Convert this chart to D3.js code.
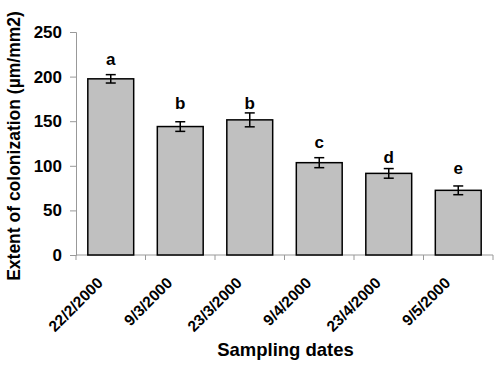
<!DOCTYPE html>
<html lang="en">
<head>
<meta charset="utf-8">
<title>Extent of colonization</title>
<script src="https://d3js.org/d3.v7.min.js"></script>
<style>
  body { margin: 0; background: #fff; }
  svg { display: block; }
  text { font-family: Arial, "Liberation Sans", sans-serif; font-weight: bold; fill: #000; }
  .ytick { font-size: 17px; }
  .xtick { font-size: 15.5px; }
  .title { font-size: 17.5px; }
  .xtitle { font-size: 18.5px; }
  .letter { font-size: 17px; }
</style>
</head>
<body>
<svg width="500" height="365"></svg>
<script>
// chart data
const dates = ["22/2/2000", "9/3/2000", "23/3/2000", "9/4/2000", "23/4/2000", "9/5/2000"];
const colonization = [197.5, 144, 151.5, 103.5, 91.5, 72.5];
const errors = [4.7, 5.4, 7.8, 5.6, 5.4, 4.9];
const letters = ["a", "b", "b", "c", "d", "e"];
const letterLevels = [213, 164, 164, 120, 103, 91];   // where the letters sit, in data units
const yTicks = [0, 50, 100, 150, 200, 250];

const svg = d3.select("svg");
const plotL = 76, plotR = 493, plotT = 32, plotB = 255;

const x = d3.scaleBand().domain(dates).range([plotL, plotR]).paddingInner(0.34).paddingOuter(0.17);
const xb = d3.scaleBand().domain(dates).range([plotL, plotR]); // for tick marks at band edges
const y = d3.scaleLinear().domain([0, 250]).range([plotB, plotT]);

// y axis
const yAxis = svg.append("g").attr("transform", `translate(${plotL},0)`)
  .call(d3.axisLeft(y).tickValues(yTicks).tickSize(6).tickPadding(8));
yAxis.attr("font-size", null).attr("font-family", null);
yAxis.select(".domain").attr("stroke", "#999");
yAxis.selectAll(".tick line").attr("stroke", "#999");
yAxis.selectAll("text").attr("class", "ytick");

// x axis baseline + ticks at category boundaries
svg.append("line").attr("x1", plotL).attr("x2", plotR).attr("y1", plotB).attr("y2", plotB)
  .attr("stroke", "#999");
const edges = dates.map(d => xb(d)).concat([plotR]);
svg.selectAll(".xedge").data(edges).enter().append("line")
  .attr("x1", d => d).attr("x2", d => d).attr("y1", plotB).attr("y2", plotB + 5)
  .attr("stroke", "#999");

// rotated category labels
svg.selectAll(".xtick").data(dates).enter().append("text")
  .attr("class", "xtick")
  .attr("text-anchor", "end")
  .attr("transform", d => `translate(${x(d) + x.bandwidth() / 2 - 7},${plotB + 29}) rotate(-45)`)
  .text(d => d);

// bars
svg.selectAll(".bar").data(dates).enter().append("rect")
  .attr("x", d => x(d))
  .attr("y", (d, i) => y(colonization[i]))
  .attr("width", x.bandwidth())
  .attr("height", (d, i) => y(0) - y(colonization[i]))
  .attr("fill", "#c0c0c0")
  .attr("stroke", "#000")
  .attr("stroke-width", 1.5);

// error bars
const eb = svg.selectAll(".err").data(dates).enter().append("g")
  .attr("transform", d => `translate(${x(d) + x.bandwidth() / 2},0)`);
eb.append("line")
  .attr("y1", (d, i) => y(colonization[i] + errors[i]))
  .attr("y2", (d, i) => y(colonization[i] - errors[i]))
  .attr("stroke", "#000").attr("stroke-width", 1.5);
eb.append("line").attr("x1", -5).attr("x2", 5)
  .attr("y1", (d, i) => y(colonization[i] + errors[i]))
  .attr("y2", (d, i) => y(colonization[i] + errors[i]))
  .attr("stroke", "#000").attr("stroke-width", 1.5);
eb.append("line").attr("x1", -5).attr("x2", 5)
  .attr("y1", (d, i) => y(colonization[i] - errors[i]))
  .attr("y2", (d, i) => y(colonization[i] - errors[i]))
  .attr("stroke", "#000").attr("stroke-width", 1.5);

// significance letters
svg.selectAll(".letter").data(dates).enter().append("text")
  .attr("class", "letter")
  .attr("text-anchor", "middle")
  .attr("x", d => x(d) + x.bandwidth() / 2)
  .attr("y", (d, i) => y(letterLevels[i]))
  .text((d, i) => letters[i]);

// axis titles
svg.append("text").attr("class", "title")
  .attr("text-anchor", "middle")
  .attr("transform", "translate(20,146) rotate(-90)")
  .text("Extent of colonization (µm/mm2)");

svg.append("text").attr("class", "xtitle")
  .attr("text-anchor", "middle")
  .attr("x", 285.5).attr("y", 356)
  .text("Sampling dates");
</script>
</body>
</html>
